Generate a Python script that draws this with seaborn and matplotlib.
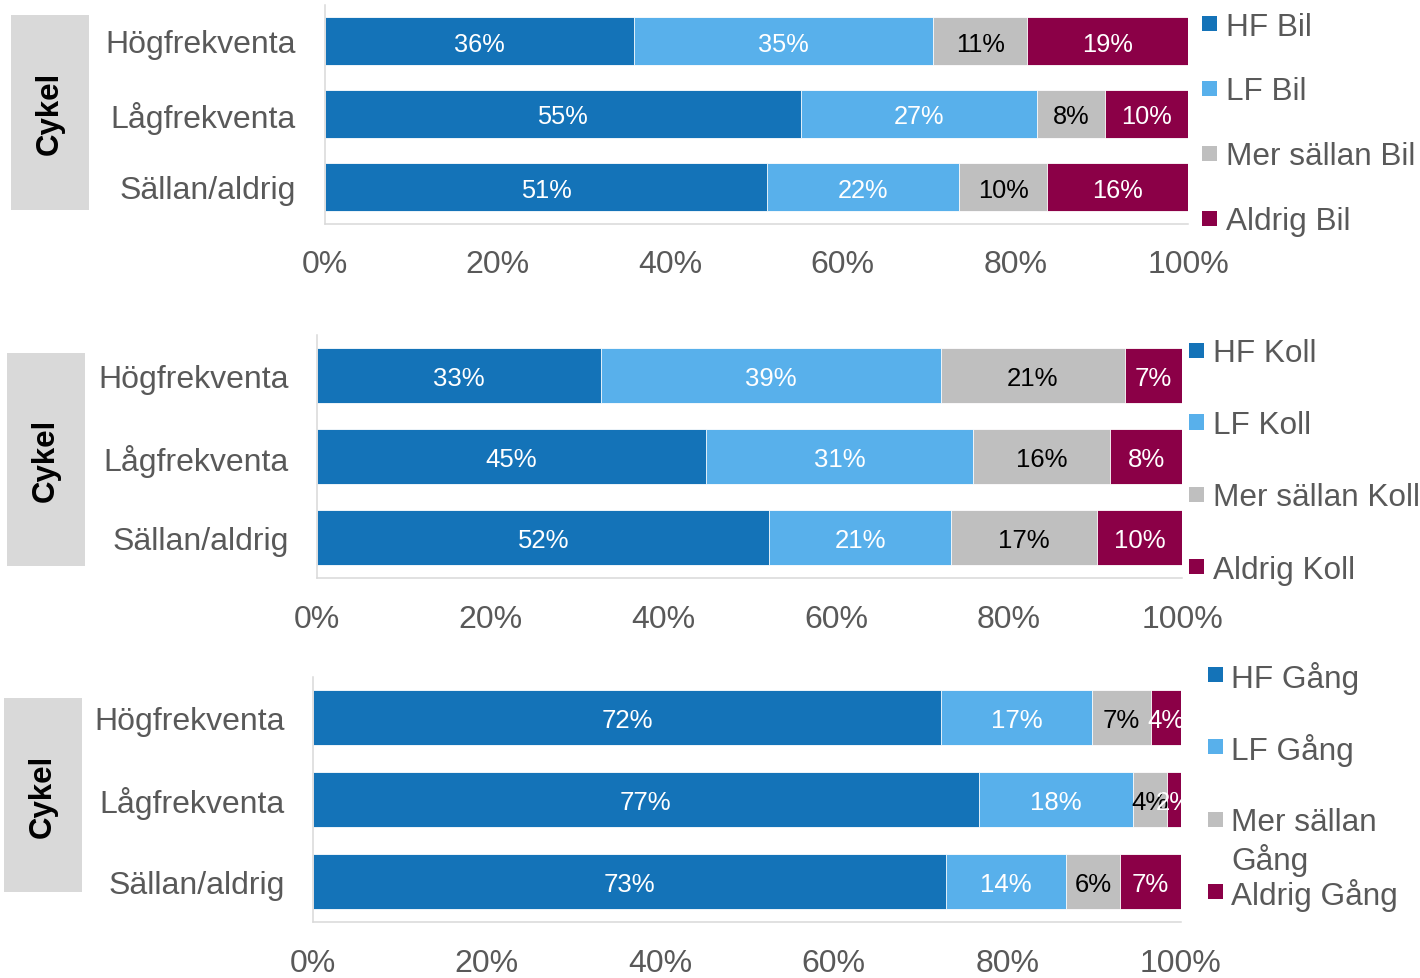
import numpy as np
import matplotlib
matplotlib.use("Agg")
import matplotlib.pyplot as plt
from matplotlib.patches import Rectangle
import seaborn as sns

# ---- data -------------------------------------------------------------
categories = ["Högfrekventa", "Lågfrekventa", "Sällan/aldrig"]
segment_names = ["HF", "LF", "Mer sällan", "Aldrig"]
group_label = "Cykel"

bil_hf = [35.8, 55.2, 51.3]
bil_lf = [34.7, 27.3, 22.2]
bil_mer = [10.9, 7.9, 10.2]
bil_aldrig = [18.6, 9.6, 16.3]

koll_hf = [32.8, 45.0, 52.3]
koll_lf = [39.3, 30.8, 21.0]
koll_mer = [21.3, 15.9, 16.9]
koll_aldrig = [6.6, 8.3, 9.8]

gang_hf = [72.4, 76.7, 72.9]
gang_lf = [17.3, 17.8, 13.9]
gang_mer = [6.8, 3.9, 6.2]
gang_aldrig = [3.5, 1.6, 7.0]

x_ticks = [0, 20, 40, 60, 80, 100]

# ---- style ------------------------------------------------------------
sns.set_style("white")
plt.rcParams["font.family"] = ["Liberation Sans", "DejaVu Sans"]

seg_colors = ["#1473b8", "#58b0eb", "#bfbfbf", "#8b0047"]
seg_text_colors = ["white", "white", "black", "white"]
text_gray = "#595959"
axis_gray = "#d9d9d9"

W, H = 1420, 979
fig = plt.figure(figsize=(W / 100, H / 100), dpi=100)


def fx(px):
    return px / W


def fy(py):
    return 1 - py / H


panels = [
    dict(mode="Bil", series=[bil_hf, bil_lf, bil_mer, bil_aldrig],
         axes_px=(324.5, 5.5, 1188, 224.5), box_px=(11, 16, 89, 211),
         legend_x=(1202, 1226), legend_y=[24, 89, 154, 219],
         legend_labels=None, label_size=18.3),
    dict(mode="Koll", series=[koll_hf, koll_lf, koll_mer, koll_aldrig],
         axes_px=(317, 336, 1182, 579), box_px=(7, 354, 85, 567),
         legend_x=(1189, 1213), legend_y=[351, 423, 495, 567],
         legend_labels=None, label_size=18.5),
    dict(mode="Gång", series=[gang_hf, gang_lf, gang_mer, gang_aldrig],
         axes_px=(313, 678, 1181, 923), box_px=(4, 699, 82, 893),
         legend_x=(1208, 1231), legend_y=[675, 747, 820, 892],
         legend_labels=["HF Gång", "LF Gång", "Mer sällan\nGång", "Aldrig Gång"],
         label_size=18.5),
]

for p in panels:
    x0, y0, x1, y1 = p["axes_px"]
    ax = fig.add_axes([fx(x0), fy(y1), (x1 - x0) / W, (y1 - y0) / H])

    values = np.array(p["series"], dtype=float)
    cum = values.cumsum(axis=0)

    # stacked bars: draw cumulative totals from the widest down
    for k in reversed(range(len(segment_names))):
        sns.barplot(x=cum[k], y=categories, orient="h", color=seg_colors[k],
                    width=0.67, saturation=1, errorbar=None,
                    edgecolor="white", linewidth=0.6, ax=ax)

    for k in range(len(segment_names)):
        for i in range(len(categories)):
            v = values[k, i]
            ax.text(cum[k, i] - v / 2, i, f"{v:.0f}%", ha="center",
                    va="center_baseline", color=seg_text_colors[k],
                    fontsize=p["label_size"], clip_on=True)

    ax.set_xlim(0, 100)
    ax.set_ylim(2.5, -0.5)
    ax.set_xticks(x_ticks)
    ax.set_xticklabels([f"{t}%" for t in x_ticks])
    ax.set_yticks(range(len(categories)))
    ax.set_yticklabels(categories)
    ax.set_yticks([-0.5, 0.5, 1.5, 2.5], minor=True)
    ax.set_xlabel("")
    ax.set_ylabel("")
    ax.tick_params(axis="x", length=0, pad=18.7, labelsize=23,
                   labelcolor=text_gray)
    ax.tick_params(axis="y", which="major", length=0, pad=20.5,
                   labelsize=23, labelcolor=text_gray)
    ax.tick_params(axis="y", which="minor", length=6.5, width=1.1,
                   color=axis_gray)
    for side in ["top", "right"]:
        ax.spines[side].set_visible(False)
    for side in ["left", "bottom"]:
        ax.spines[side].set_color(axis_gray)
        ax.spines[side].set_linewidth(1.1)

    # grey group box with rotated label
    bx0, by0, bx1, by1 = p["box_px"]
    fig.patches.append(Rectangle((fx(bx0), fy(by1)), (bx1 - bx0) / W,
                                 (by1 - by0) / H, transform=fig.transFigure,
                                 facecolor="#d9d9d9", edgecolor="none"))
    fig.text(fx((bx0 + bx1) / 2), fy((by0 + by1) / 2), group_label,
             rotation=90, ha="center", va="center", fontsize=22.5,
             fontweight="bold", color="black")

    # legend entries
    labels = p["legend_labels"] or [f"{s} {p['mode']}" for s in segment_names]
    mx, tx = p["legend_x"]
    msz = 15
    for k, (lab, ly) in enumerate(zip(labels, p["legend_y"])):
        fig.patches.append(Rectangle((fx(mx), fy(ly + msz / 2)), msz / W,
                                     msz / H, transform=fig.transFigure,
                                     facecolor=seg_colors[k], edgecolor="none"))
        for j, line in enumerate(lab.split("\n")):
            fig.text(fx(tx), fy(ly + 37 * j), line, ha="left",
                     va="center_baseline", fontsize=22.7, color=text_gray)

fig.savefig("out.png", dpi=100)
